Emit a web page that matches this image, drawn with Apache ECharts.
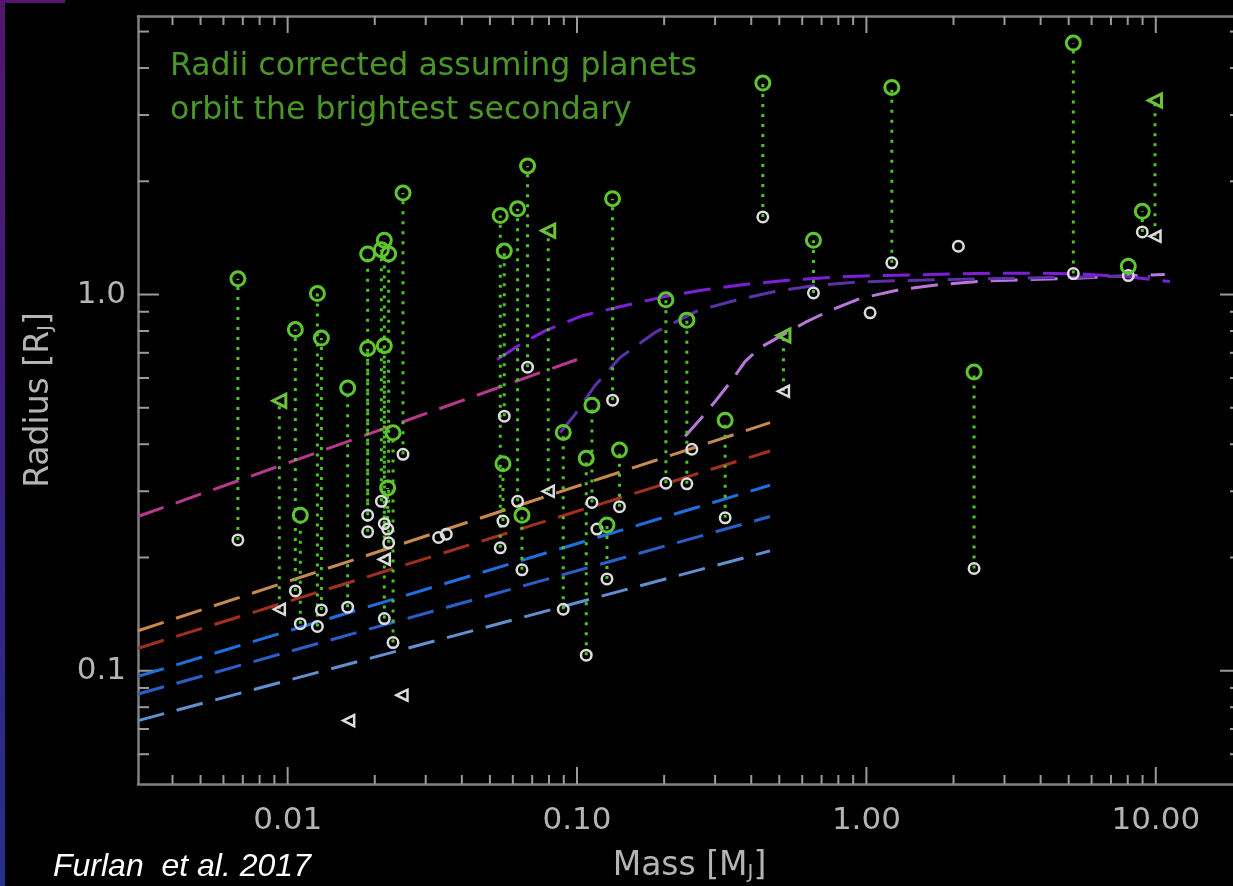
<!DOCTYPE html>
<html><head><meta charset="utf-8">
<script src="https://cdn.jsdelivr.net/npm/echarts@6/dist/echarts.min.js"></script>
<style>html,body{margin:0;padding:0;background:#000;}#chart{width:1233px;height:886px;}</style>
</head><body><div id="chart"></div>
<script>
// ---------------- axis ranges and tick values ----------------
const X_MIN = 0.00304, X_MAX = 19.7;
const Y_MIN = 0.05, Y_MAX = 5.5;
const X_MAJOR_TICKS = [0.01, 0.1, 1, 10];
const X_MINOR_TICKS = [0.004,0.005,0.006,0.007,0.008,0.009,0.02,0.03,0.04,0.05,0.06,0.07,0.08,0.09,0.2,0.3,0.4,0.5,0.6,0.7,0.8,0.9,2,3,4,5,6,7,8,9];
const Y_MAJOR_TICKS = [0.1, 1];
const Y_MINOR_TICKS = [0.06,0.07,0.08,0.09,0.2,0.3,0.4,0.5,0.6,0.7,0.8,0.9,2,3,4,5];

// ---------------- planets: original radius -> corrected radius ----------------
const pairMass = [0.00673,0.00936,0.01063,0.01106,0.01267,0.01308,0.01612,0.01890,0.01890,0.02158,0.02108,0.02234,0.02158,0.02216,0.02313,0.02504,0.06745,0.05429,0.06231,0.05605,0.05547,0.06452,0.07952,0.13268,0.20281,0.23965,0.11260,0.08962,0.10760,0.14019,0.12690,0.32501,0.43857,0.51680,0.65618,1.2240,2.3552,5.1884,8.0355,8.9829,9.9366];
const pairRadiusOriginal = [0.2227,0.1457,0.1630,0.1334,0.1312,0.1451,0.1476,0.234,0.259,0.1376,0.282,0.2188,0.246,0.238,0.1188,0.376,0.641,0.2122,0.282,0.475,0.250,0.1855,0.300,0.524,0.315,0.314,0.280,0.1457,0.1100,0.273,0.1754,0.255,1.608,0.553,1.010,1.214,0.1870,1.137,1.123,1.467,1.428];
const pairRadiusCorrected = [1.101,0.522,0.807,0.259,1.006,0.766,0.564,1.282,0.719,1.394,1.316,1.282,0.731,0.306,0.429,1.861,2.197,1.622,1.690,1.305,0.355,0.259,1.478,1.798,0.968,0.855,0.508,0.430,0.367,0.386,0.244,0.463,3.648,0.778,1.394,3.551,0.622,4.659,1.189,1.664,3.280];
const pairShape = ['o','t','o','o','o','o','o','o','o','o','o','o','o','o','o','o','o','o','o','o','o','o','t','o','o','o','o','o','o','o','o','o','o','t','o','o','o','o','o','o','t'];

// ---------------- planets without a corrected radius ----------------
const loneMass = [0.11716,0.24938,0.03323,0.03534,1.0299,2.0785,0.02158,0.01625,0.02484];
const loneRadius = [0.238,0.388,0.2260,0.2306,0.894,1.344,0.1977,0.0737,0.0861];
const loneShape = ['o','o','o','o','o','o','t','t','t'];

// ---------------- model curves ----------------
const magentaMass = [0.00304, 0.1];
const magentaRadius = [0.257, 0.672];
const tanMass = [0.00304, 0.4645];
const tanRadius = [0.1277, 0.4564];
const darkRedMass = [0.00304, 0.4645];
const darkRedRadius = [0.1147, 0.3837];
const blueMass = [0.00304, 0.4645];
const blueRadius = [0.0966, 0.3112];
const blue2Mass = [0.00304, 0.4645];
const blue2Radius = [0.0867, 0.257];
const steelMass = [0.00304, 0.4645];
const steelRadius = [0.0737, 0.2083];
const violetMass = [0.0530,0.0637,0.0777,0.1051,0.1467,0.2017,0.2795,0.3903,0.5452,0.7674,1.072,1.497,2.107,2.896,4.077,5.693,7.827,11.2];
const violetRadius = [0.672,0.737,0.802,0.880,0.935,0.988,1.031,1.066,1.093,1.112,1.123,1.128,1.135,1.140,1.140,1.133,1.116,1.083];
const indigoMass = [0.0875,0.0984,0.1154,0.1408,0.1860,0.2618,0.3513,0.4830,0.6640,0.9346,1.305,1.943,2.896,4.31,6.418,9.55];
const indigoRadius = [0.430,0.480,0.573,0.680,0.793,0.907,0.964,1.019,1.057,1.080,1.089,1.096,1.103,1.110,1.116,1.116];
const orchidMass = [0.2364,0.2665,0.3002,0.3383,0.3811,0.4293,0.5033,0.6142,0.7491,0.9510,1.305,1.794,2.567,3.671,5.046,6.936,10.74];
const orchidRadius = [0.4198,0.4658,0.520,0.584,0.664,0.723,0.774,0.843,0.907,0.976,1.031,1.063,1.086,1.096,1.103,1.116,1.130];

// ---------------- build ----------------
const zip = (a, b) => a.map((v, i) => [v, b[i]]);
const AX = '#808080', TK = '#9a9a9a', LBL = '#b4b4b4';
const FONT = 'DejaVu Sans';
const isDecade = v => Math.abs(Math.log10(v) - Math.round(Math.log10(v))) < 1e-6;

function dashed(name, mass, radius, color) {
  return { name, type: 'line', data: zip(mass, radius), symbol: 'none', z: 2, silent: true,
    lineStyle: { color, width: 3, type: [27, 13] } };
}

const xTickData = X_MAJOR_TICKS.map(v => [v, 1]).concat(X_MINOR_TICKS.map(v => [v, 0]));
const yTickData = Y_MAJOR_TICKS.map(v => [1, v]).concat(Y_MINOR_TICKS.map(v => [0, v]));

const whiteCircles = [], whiteTris = [], greenCircles = [], greenTris = [];
pairMass.forEach((m, i) => {
  (pairShape[i] === 't' ? whiteTris : whiteCircles).push([m, pairRadiusOriginal[i]]);
  (pairShape[i] === 't' ? greenTris : greenCircles).push([m, pairRadiusCorrected[i]]);
});
loneMass.forEach((m, i) => {
  (loneShape[i] === 't' ? whiteTris : whiteCircles).push([m, loneRadius[i]]);
});

const chart = echarts.init(document.getElementById('chart'));
const logX = (extra) => Object.assign({ type: 'log', logBase: 10, min: X_MIN, max: X_MAX, splitLine: { show: false }, axisTick: { show: false } }, extra);
const logY = (extra) => Object.assign({ type: 'log', logBase: 10, min: Y_MIN, max: Y_MAX, splitLine: { show: false }, axisTick: { show: false } }, extra);

chart.setOption({
  backgroundColor: '#000',
  animation: false,
  grid: { left: 138, top: 16, width: 1103, height: 768, outerBoundsMode: 'none', containLabel: false },
  xAxis: [
    logX({ position: 'bottom',
      axisLine: { show: true, lineStyle: { color: AX, width: 2.5 } },
      axisLabel: { color: LBL, fontFamily: FONT, fontSize: 31, margin: 21,
        formatter: v => isDecade(v) ? v.toFixed(2) : '' },
      name: '{t|Mass [M}{s|J}{t|]}', nameLocation: 'middle', nameGap: 66,
      nameTextStyle: { rich: {
        t: { color: LBL, fontFamily: FONT, fontSize: 33 },
        s: { color: LBL, fontFamily: FONT, fontSize: 20, lineHeight: 14, verticalAlign: 'bottom' } } } }),
    logX({ position: 'top', axisLine: { show: true, lineStyle: { color: AX, width: 2.5 } }, axisLabel: { show: false } })
  ],
  yAxis: [
    logY({ position: 'left',
      axisLine: { show: true, lineStyle: { color: AX, width: 2.5 } },
      axisLabel: { color: LBL, fontFamily: FONT, fontSize: 31, margin: 12,
        formatter: v => isDecade(v) ? v.toFixed(1) : '' },
      name: '{t|Radius [R}{s|J}{t|]}', nameLocation: 'middle', nameGap: 82, nameRotate: 90,
      nameTextStyle: { rich: {
        t: { color: LBL, fontFamily: FONT, fontSize: 33 },
        s: { color: LBL, fontFamily: FONT, fontSize: 20, lineHeight: 14, verticalAlign: 'bottom' } } } })
  ],
  graphic: [
    { type: 'rect', shape: { x: 0, y: 0, width: 5, height: 886 }, silent: true,
      style: { fill: new echarts.graphic.LinearGradient(0, 0, 0, 1, [
        { offset: 0, color: '#54166e' }, { offset: 0.5, color: '#3a2080' }, { offset: 1, color: '#272f8a' }]) } },
    { type: 'rect', shape: { x: 0, y: 0, width: 65, height: 3 }, silent: true, style: { fill: '#54166e' } },
    { type: 'text', x: 170, y: 45, silent: true,
      style: { text: 'Radii corrected assuming planets\norbit the brightest secondary',
        fill: '#4a9628', font: '31.6px "DejaVu Sans"', lineHeight: 44, verticalAlign: 'top' } },
    { type: 'text', x: 53, y: 851, silent: true,
      style: { text: 'Furlan  et al. 2017', fill: '#ffffff', font: 'italic 32px "Liberation Sans"', verticalAlign: 'top' } }
  ],
  series: [
    { name: 'xticks', type: 'custom', silent: true, z: 1, data: xTickData, encode: { x: 0, y: 1 },
      renderItem: (params, api) => {
        const r = params.coordSys, x = api.coord([api.value(0), Y_MIN])[0];
        const len = api.value(1) ? 17 : 9;
        const st = { stroke: TK, lineWidth: 2 };
        return { type: 'group', children: [
          { type: 'line', shape: { x1: x, y1: r.y + r.height, x2: x, y2: r.y + r.height - len }, style: st },
          { type: 'line', shape: { x1: x, y1: r.y, x2: x, y2: r.y + len }, style: st }] };
      } },
    { name: 'yticks', type: 'custom', silent: true, z: 1, data: yTickData, encode: { x: 0, y: 1 },
      renderItem: (params, api) => {
        const r = params.coordSys, y = api.coord([X_MIN, api.value(1)])[1];
        const len = api.value(0) ? 21 : 11;
        const st = { stroke: TK, lineWidth: 2 };
        return { type: 'group', children: [
          { type: 'line', shape: { x1: r.x, y1: y, x2: r.x + len, y2: y }, style: st },
          { type: 'line', shape: { x1: r.x + r.width, y1: y, x2: r.x + r.width - len, y2: y }, style: st }] };
      } },
    dashed('magenta', magentaMass, magentaRadius, '#b8388e'),
    dashed('tan', tanMass, tanRadius, '#c8894e'),
    dashed('darkred', darkRedMass, darkRedRadius, '#a3301c'),
    dashed('blue', blueMass, blueRadius, '#1e6fe0'),
    dashed('blue2', blue2Mass, blue2Radius, '#2a5fca'),
    dashed('steel', steelMass, steelRadius, '#6190d0'),
    dashed('orchid', orchidMass, orchidRadius, '#b878d8'),
    dashed('indigo', indigoMass, indigoRadius, '#5b31a6'),
    dashed('violet', violetMass, violetRadius, '#7d1fd6'),
    { name: 'drops', type: 'custom', silent: true, z: 3,
      data: pairMass.map((m, i) => [m, pairRadiusOriginal[i], pairRadiusCorrected[i]]),
      encode: { x: 0, y: [1, 2] },
      renderItem: (params, api) => {
        const a = api.coord([api.value(0), api.value(1)]);
        const b = api.coord([api.value(0), api.value(2)]);
        return { type: 'line', shape: { x1: a[0], y1: a[1], x2: b[0], y2: b[1] },
          style: { stroke: '#4cc424', lineWidth: 3, lineDash: [3, 7] } };
      } },
    { name: 'original', type: 'scatter', data: whiteCircles, z: 4, symbol: 'circle', symbolSize: 10.5,
      itemStyle: { color: 'rgba(0,0,0,0)', borderColor: '#dcdcdc', borderWidth: 2.5, opacity: 1 } },
    { name: 'original limits', type: 'scatter', data: whiteTris, z: 4, symbol: 'triangle', symbolSize: 11, symbolRotate: 90,
      itemStyle: { color: 'rgba(0,0,0,0)', borderColor: '#dcdcdc', borderWidth: 2.5, opacity: 1 } },
    { name: 'corrected', type: 'scatter', data: greenCircles, z: 5, symbol: 'circle', symbolSize: 14,
      itemStyle: { color: 'rgba(0,0,0,0)', borderColor: '#5ec62e', borderWidth: 3, opacity: 1 } },
    { name: 'corrected limits', type: 'scatter', data: greenTris, z: 5, symbol: 'triangle', symbolSize: 13, symbolRotate: 90,
      itemStyle: { color: 'rgba(0,0,0,0)', borderColor: '#6cc23a', borderWidth: 3, opacity: 1 } }
  ]
});
</script>
</body></html>
